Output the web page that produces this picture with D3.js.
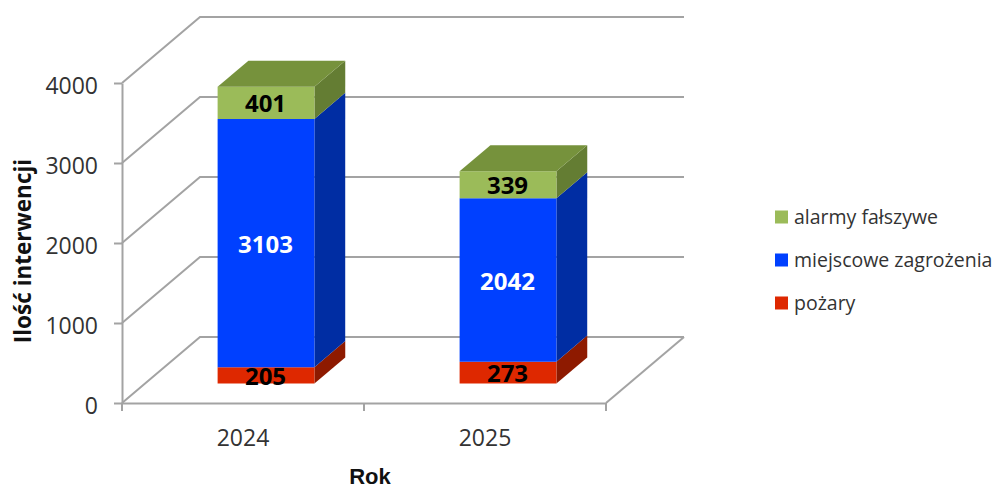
<!DOCTYPE html>
<html>
<head>
<meta charset="utf-8">
<script src="https://cdn.jsdelivr.net/npm/d3@7"></script>
<style>
html, body { margin: 0; padding: 0; background: #fff; }
svg { display: block; }
text { font-family: "Open Sans", sans-serif; }
.axis path, .axis line { stroke: #a3a3a3; stroke-width: 2; }
.axis text { font-size: 23px; fill: #333; }
.label { font-size: 24px; font-weight: 700; }
</style>
</head>
<body>
<svg></svg>
<script>
var years = ["2024", "2025"];
var seriesNames = ["pożary", "miejscowe zagrożenia", "alarmy fałszywe"];
var pozary = [205, 273];
var miejscowe = [3103, 2042];
var alarmy = [401, 339];
var yTicks = [0, 1000, 2000, 3000, 4000];

var width = 997,
    height = 489,
    depthX = 78,
    depthY = 66,
    zFront = 0.295,
    zBack = 0.69;

// front, side, top colour for each series
var colors = [
    { front: "#de2800", side: "#8e1a00", top: "#8e1a00" },
    { front: "#0040ff", side: "#002da3", top: "#002da3" },
    { front: "#9bbb59", side: "#647d33", top: "#76923c" }
];

var svg = d3.select("svg")
    .attr("width", width)
    .attr("height", height);

var x = d3.scaleBand()
    .domain(years)
    .range([122, 606])
    .paddingInner(0.6)
    .paddingOuter(0.3);

var y = d3.scaleLinear()
    .domain([0, 4000])
    .range([403, 83]);

// oblique projection, z = 0 is the front of the floor and z = 1 the back wall
function px(v, z) { return v + depthX * z; }
function py(v, z) { return y(v) - depthY * z; }

var line = d3.line();

var grid = svg.append("g")
    .attr("fill", "none")
    .attr("stroke", "#a3a3a3")
    .attr("stroke-width", 2);

yTicks.forEach(t => {
    grid.append("path").attr("d", line([
        [x.range()[0], y(t)],
        [px(x.range()[0], 1), py(t, 1)],
        [px(x.range()[1], 1), py(t, 1)]
    ]));
});

// right edge of the floor
grid.append("path").attr("d", line([
    [x.range()[1], y(0)],
    [px(x.range()[1], 1), py(0, 1)]
]));

var yAxis = d3.axisLeft(y)
    .tickValues(yTicks)
    .tickFormat(d3.format("d"))
    .tickSize(8)
    .tickPadding(16)
    .tickSizeOuter(0);

var yAxisG = svg.append("g")
    .attr("class", "axis")
    .attr("transform", "translate(" + x.range()[0] + ",0)")
    .call(yAxis);

yAxisG.selectAll("text").attr("dy", "0.44em");

var xAxis = d3.axisBottom(x)
    .tickSize(0)
    .tickPadding(27)
    .tickSizeOuter(0);

svg.append("g")
    .attr("class", "axis")
    .attr("transform", "translate(0," + y(0) + ")")
    .call(xAxis);

// tick marks sit between the categories, not under them
var step = x.step();
svg.append("g")
    .attr("class", "axis")
    .selectAll("line")
    .data(d3.range(years.length + 1))
    .join("line")
    .attr("x1", d => x.range()[0] + d * step)
    .attr("x2", d => x.range()[0] + d * step)
    .attr("y1", y(0))
    .attr("y2", y(0) + 8);

// stacked bars
var rows = years.map((year, i) => ({
    year: year,
    values: [pozary[i], miejscowe[i], alarmy[i]]
}));

var bars = svg.append("g");

rows.forEach(row => {
    var x0 = x(row.year),
        x1 = x0 + x.bandwidth(),
        base = 0;

    row.values.forEach((v, s) => {
        var top = base + v;

        bars.append("path")
            .attr("fill", colors[s].side)
            .attr("d", line([
                [px(x1, zFront), py(base, zFront)],
                [px(x1, zBack), py(base, zBack)],
                [px(x1, zBack), py(top, zBack)],
                [px(x1, zFront), py(top, zFront)]
            ]) + "Z");

        bars.append("path")
            .attr("fill", colors[s].front)
            .attr("d", line([
                [px(x0, zFront), py(base, zFront)],
                [px(x1, zFront), py(base, zFront)],
                [px(x1, zFront), py(top, zFront)],
                [px(x0, zFront), py(top, zFront)]
            ]) + "Z");

        if (s == row.values.length - 1) {
            bars.append("path")
                .attr("fill", colors[s].top)
                .attr("d", line([
                    [px(x0, zFront), py(top, zFront)],
                    [px(x1, zFront), py(top, zFront)],
                    [px(x1, zBack), py(top, zBack)],
                    [px(x0, zBack), py(top, zBack)]
                ]) + "Z");
        }

        bars.append("text")
            .attr("class", "label")
            .attr("text-anchor", "middle")
            .attr("dy", "0.4em")
            .attr("x", px((x0 + x1) / 2, zFront) - 0.5)
            .attr("y", py(base + v / 2, zFront))
            .attr("fill", s == 1 ? "#fff" : "#000")
            .text(v);

        base = top;
    });
});

// axis titles
svg.append("text")
    .attr("transform", "translate(31,251) rotate(-90)")
    .attr("text-anchor", "middle")
    .attr("font-size", 22.5)
    .attr("font-weight", 700)
    .attr("fill", "#111")
    .text("Ilość interwencji");

// Liberation has a shorter descent, so the box of this text stays on the page
svg.append("text")
    .attr("x", 370)
    .attr("y", 484)
    .attr("text-anchor", "middle")
    .attr("font-size", 22)
    .attr("font-weight", 700)
    .attr("fill", "#111")
    .style("font-family", '"Liberation Sans", sans-serif')
    .text("Rok");

// legend, top entry is the top of the stack
var legendY = d3.scalePoint()
    .domain(seriesNames.slice().reverse())
    .range([217, 303]);

var legend = svg.append("g")
    .selectAll("g")
    .data(seriesNames)
    .join("g")
    .attr("transform", d => "translate(775," + legendY(d) + ")");

legend.append("rect")
    .attr("y", -6.5)
    .attr("width", 13)
    .attr("height", 13)
    .attr("fill", (d, i) => colors[i].front);

legend.append("text")
    .attr("x", 19)
    .attr("dy", "0.34em")
    .attr("font-size", 19.5)
    .attr("fill", "#333")
    .text(d => d);
</script>
</body>
</html>
